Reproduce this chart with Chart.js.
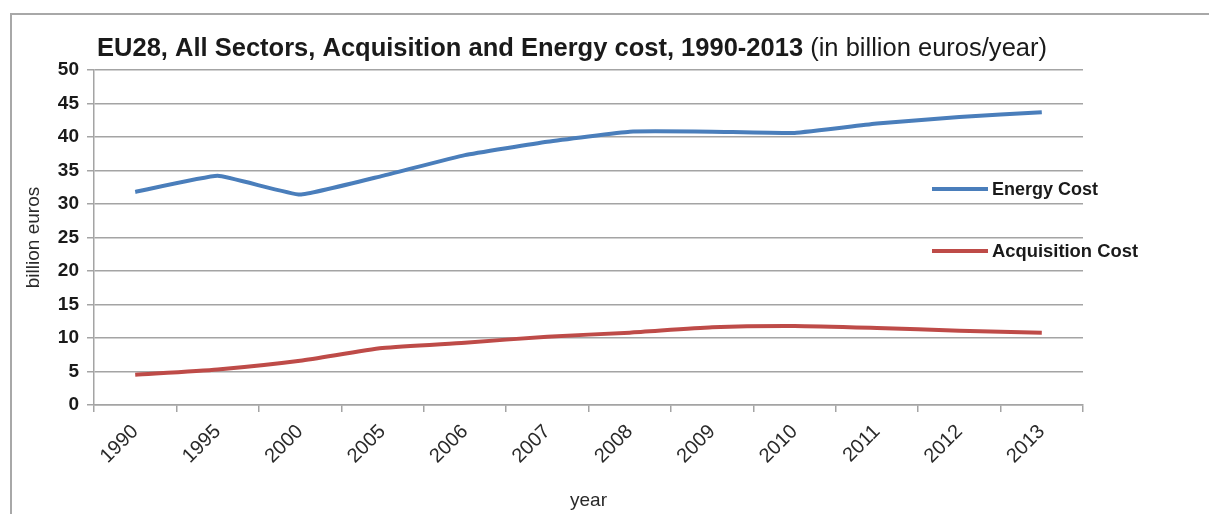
<!DOCTYPE html>
<html>
<head>
<meta charset="utf-8">
<script src="https://cdn.jsdelivr.net/npm/chart.js@4.4.1/dist/chart.umd.min.js"></script>
<style>
  html, body { margin: 0; padding: 0; background: #fff; }
  #wrap { position: relative; width: 1209px; height: 514px; overflow: hidden; }
  #frame { position: absolute; left: 10px; top: 13px; right: -4px; bottom: -4px;
           border-top: 2px solid #a8a8a8; border-left: 2px solid #a8a8a8; }
  #cost { position: absolute; left: 0; top: 0; }
</style>
</head>
<body>
<div id="wrap">
  <div id="frame"></div>
  <canvas id="cost" width="1209" height="514"></canvas>
</div>
<script>
"use strict";

var YEARS = ["1990", "1995", "2000", "2005", "2006", "2007", "2008", "2009", "2010", "2011", "2012", "2013"];
var ENERGY_COST = [31.8, 34.2, 31.4, 34.2, 37.3, 39.3, 40.8, 40.8, 40.6, 42.0, 43.0, 43.7];
var ACQUISITION_COST = [4.5, 5.3, 6.6, 8.5, 9.3, 10.2, 10.8, 11.6, 11.8, 11.5, 11.1, 10.8];
var Y_TICKS = [0, 5, 10, 15, 20, 25, 30, 35, 40, 45, 50];

var BLUE = "#4a7ebb";
var RED = "#be4b48";
var GRID = "#a4a4a4";
var FONT = "'Liberation Sans', Arial, sans-serif";

// draw text squeezed horizontally so it spans the given width
function fitText(ctx, parts, x, y, width) {
  var total = 0;
  parts.forEach(function(p) { ctx.font = p.font; p.w = ctx.measureText(p.text).width; total += p.w; });
  var sx = width / total;
  ctx.save();
  ctx.translate(x, y);
  ctx.scale(sx, 1);
  var cx = 0;
  parts.forEach(function(p) {
    ctx.font = p.font;
    ctx.fillStyle = p.color || "#1a1a1a";
    ctx.fillText(p.text, cx, 0);
    cx += p.w;
  });
  ctx.restore();
}

var decorPlugin = {
  id: "decor",
  afterDraw: function(chart) {
    var ctx = chart.ctx;
    ctx.save();
    ctx.textBaseline = "alphabetic";
    ctx.textAlign = "left";

    // title: bold lead-in followed by unit note
    fitText(ctx, [
      { text: "EU28, All Sectors, Acquisition and Energy cost, 1990-2013 ", font: "bold 25px " + FONT },
      { text: "(in billion euros/year)", font: "25px " + FONT }
    ], 97, 56, 950);

    // legend entries sitting over the right part of the plot
    var items = [
      { label: "Energy Cost", color: BLUE, y: 189, w: 106 },
      { label: "Acquisition Cost", color: RED, y: 251, w: 146 }
    ];
    items.forEach(function(it) {
      ctx.strokeStyle = it.color;
      ctx.lineWidth = 4;
      ctx.lineCap = "butt";
      ctx.beginPath();
      ctx.moveTo(932, it.y);
      ctx.lineTo(988, it.y);
      ctx.stroke();
      fitText(ctx, [{ text: it.label, font: "bold 18px " + FONT }], 992, it.y + 6, it.w);
    });
    ctx.restore();
  }
};

new Chart(document.getElementById("cost").getContext("2d"), {
  type: "line",
  data: {
    labels: YEARS,
    datasets: [
      { label: "Energy Cost", data: ENERGY_COST, borderColor: BLUE, backgroundColor: BLUE,
        borderWidth: 4, pointRadius: 0, tension: 0.1, fill: false },
      { label: "Acquisition Cost", data: ACQUISITION_COST, borderColor: RED, backgroundColor: RED,
        borderWidth: 4, pointRadius: 0, tension: 0.2, fill: false }
    ]
  },
  options: {
    responsive: false,
    animation: false,
    layout: { padding: { top: 70, right: 126, left: 0, bottom: 0 } },
    plugins: { legend: { display: false }, tooltip: { enabled: false }, title: { display: false } },
    scales: {
      x: {
        offset: true,
        grid: { offset: true, drawOnChartArea: false, drawTicks: true, tickLength: 7, color: GRID, lineWidth: 1.5 },
        border: { display: true, color: GRID, width: 1.5 },
        ticks: { minRotation: 45, maxRotation: 45, padding: 8, color: "#2a2a2a", font: { family: FONT, size: 20 } },
        title: { display: true, text: "year", color: "#2a2a2a", font: { family: FONT, size: 19 }, padding: { top: 2, bottom: 2 } },
        afterFit: function(s) { s.height = 109; }
      },
      y: {
        min: 0,
        max: 50,
        afterBuildTicks: function(s) { s.ticks = Y_TICKS.map(function(v) { return { value: v }; }); },
        grid: { color: GRID, lineWidth: 1.5, drawTicks: true, tickLength: 7 },
        border: { display: true, color: GRID, width: 1.5 },
        ticks: { padding: 8, color: "#1a1a1a", font: { family: FONT, size: 19, weight: "bold" } },
        title: { display: true, text: "billion euros", color: "#2a2a2a", font: { family: FONT, size: 19 }, padding: { top: 22, bottom: 4 } },
        afterFit: function(s) { s.width = 94; }
      }
    }
  },
  plugins: [decorPlugin]
});
</script>
</body>
</html>
